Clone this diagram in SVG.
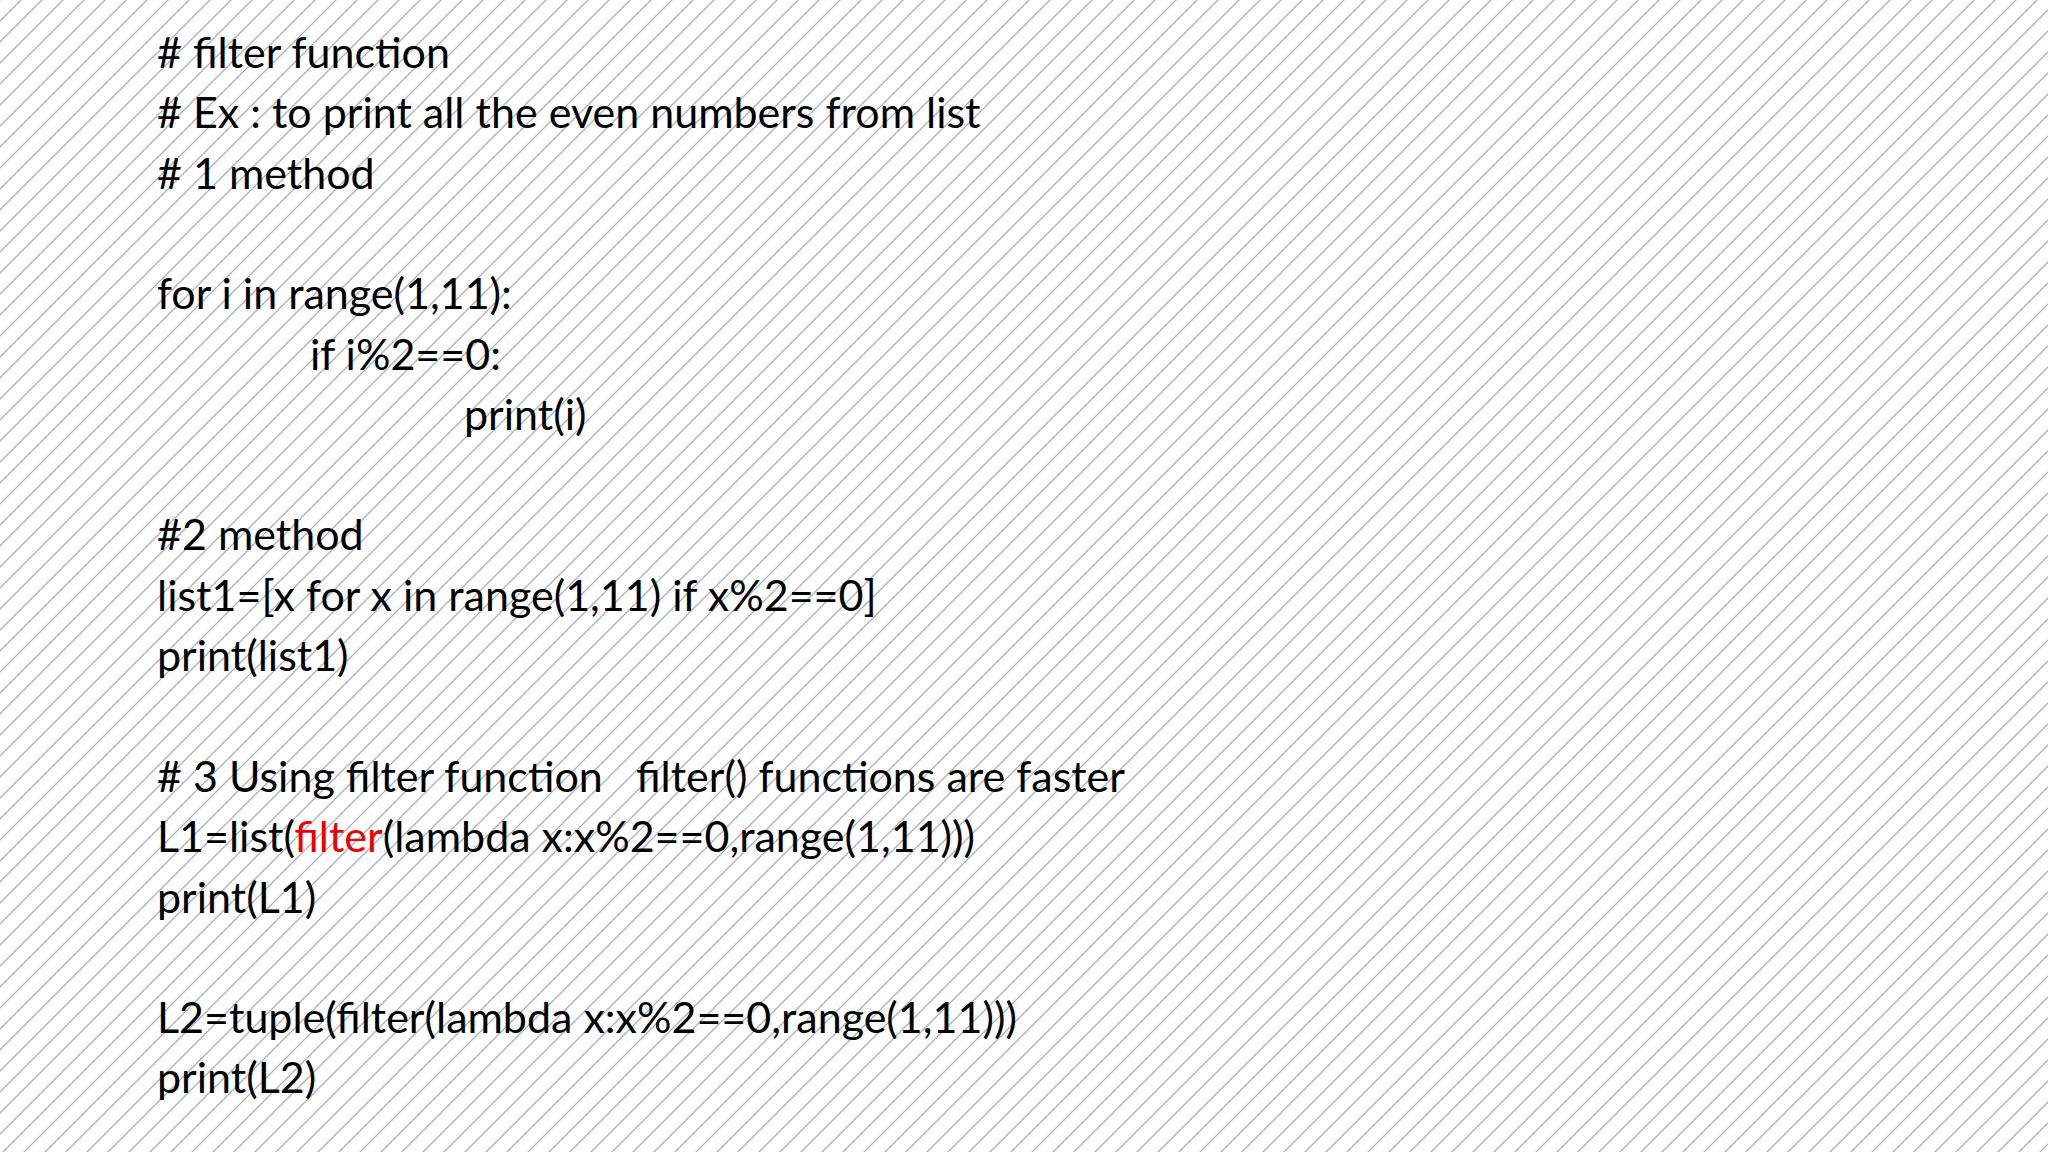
<svg xmlns="http://www.w3.org/2000/svg" width="2048" height="1152" viewBox="0 0 2048 1152">
<defs>
<pattern id="hatch" patternUnits="userSpaceOnUse" width="21" height="21">
<path d="M-2,23 L23,-2 M-5,5 L5,-5 M16,26 L26,16" stroke="#aab0c0" stroke-width="1.3"/>
</pattern>
<style>
.t{font-family:Lato,"Liberation Sans",sans-serif;font-size:43px;fill:#000}
.r{fill:#ee0000}
</style>
</defs>
<rect width="2048" height="1152" fill="#fff"/>
<rect width="2048" height="1152" fill="url(#hatch)"/>
<g id="code" class="t">
<text x="157" y="68">#&#160;filter function</text>
<text x="157" y="128">#&#160;Ex : to print all the even numbers from list</text>
<text x="157" y="189"># 1 method</text>
<text x="157" y="309">for i in range(1,11):</text>
<text x="310" y="370">if i%2==0:</text>
<text x="464" y="430">print(i)</text>
<text x="157" y="550">#2 method</text>
<text x="157" y="611">list1=[x for x in range(1,11) if x%2==0]</text>
<text x="157" y="671">print(list1)</text>
<text x="157" y="792"># 3 Using filter function<tspan x="636">filter() functions are faster</tspan></text>
<text x="157" y="852">L1=list(<tspan class="r">filter</tspan>(lambda x:x%2==0,range(1,11)))</text>
<text x="157" y="913">print(L1)</text>
<text x="157" y="1033">L2=tuple(filter(lambda x:x%2==0,range(1,11)))</text>
<text x="157" y="1093">print(L2)</text>
</g>
</svg>
